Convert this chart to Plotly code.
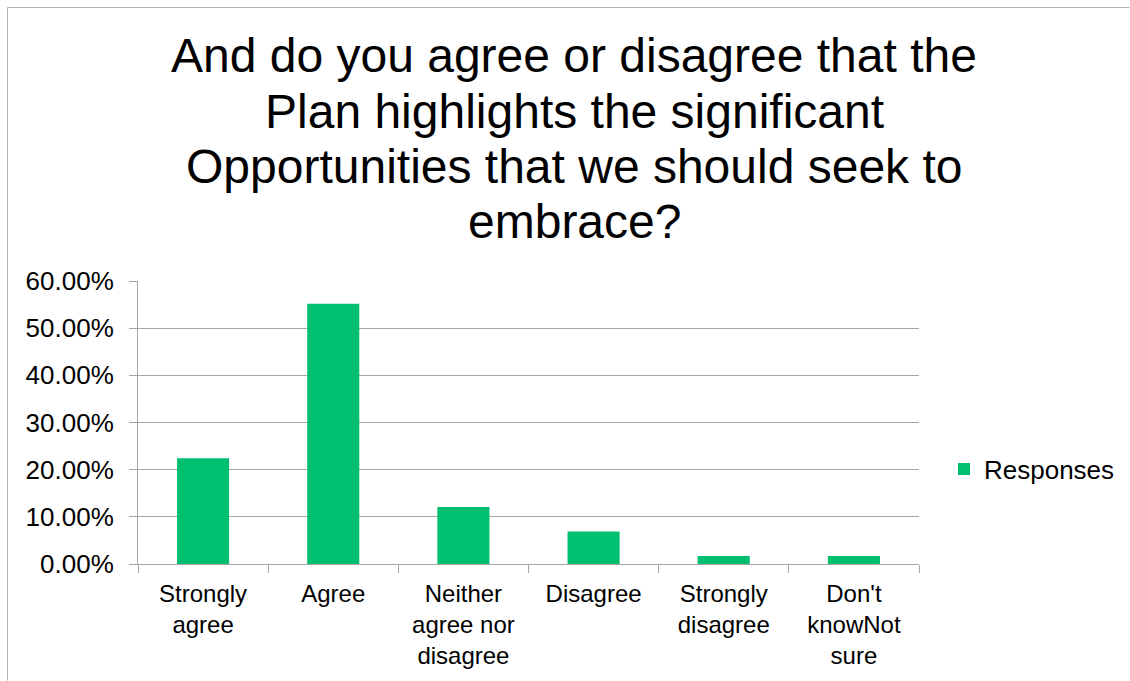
import plotly.graph_objects as go

categories = ["Strongly agree", "Agree", "Neither agree nor disagree", "Disagree",
              "Strongly disagree", "Don't knowNot sure"]
tick_labels = ["Strongly<br>agree", "Agree", "Neither<br>agree nor<br>disagree", "Disagree",
               "Strongly<br>disagree", "Don't<br>knowNot<br>sure"]
responses = [0.2241, 0.5517, 0.1207, 0.0690, 0.0172, 0.0172]
title_lines = ["And do you agree or disagree that the",
               "Plan highlights the significant",
               "Opportunities that we should seek to",
               "embrace?"]

FONT = "Liberation Sans, Arial, sans-serif"
GREEN = "#00BF6F"
GRID = "#A6A6A6"

W, H = 1130, 681
L, R, T, B = 138, 919, 281, 564

fig = go.Figure()
fig.add_trace(go.Bar(
    x=categories, y=responses, name="Responses",
    marker=dict(color=GREEN, line=dict(width=0)),
    showlegend=True,
))

# title lines (centers in pixels)
line_centers = [56, 111, 166, 221]
for txt, yc in zip(title_lines, line_centers):
    fig.add_annotation(
        text=txt, xref="paper", yref="paper",
        x=(574 - L) / (R - L), y=(B - yc) / (B - T),
        xanchor="center", yanchor="middle", showarrow=False,
        font=dict(family=FONT, size=48, color="#000000"),
    )

# chart border (only top and left edges are visible), kept inside the figure
bx = (7.5 - L) / (R - L)
by = (B - 7.5) / (B - T)
fig.add_shape(type="line", xref="paper", yref="paper", x0=bx, x1=(W - 0.5 - L) / (R - L),
              y0=by, y1=by, line=dict(color="#B3B3B3", width=1), layer="below")
fig.add_shape(type="line", xref="paper", yref="paper", x0=bx, x1=bx,
              y0=by, y1=(B - (H - 0.5)) / (B - T), line=dict(color="#B3B3B3", width=1), layer="below")

fig.update_layout(
    width=W, height=H,
    margin=dict(l=L, r=W - R, t=T, b=H - B, autoexpand=False),
    paper_bgcolor="white", plot_bgcolor="white",
    bargap=0.6,
    font=dict(family=FONT, color="#000000"),
    legend=dict(x=(944 - L) / (R - L), y=(B - 469) / (B - T),
                xanchor="left", yanchor="middle",
                font=dict(family=FONT, size=26, color="#000000"),
                bgcolor="rgba(0,0,0,0)", borderwidth=0, itemwidth=30),
    xaxis=dict(
        type="category", tickmode="array", tickvals=categories, ticktext=tick_labels,
        tickson="boundaries", ticks="outside", ticklen=8, tickcolor=GRID, tickwidth=1,
        showline=True, linecolor=GRID, linewidth=1, showgrid=False,
        tickfont=dict(family=FONT, size=24, color="#000000"),
        tickangle=0, ticklabelstandoff=8,
    ),
    yaxis=dict(
        range=[0, 0.6], dtick=0.1, tick0=0, tickformat=".2%",
        ticks="outside", ticklen=8, tickcolor=GRID, tickwidth=1,
        showline=True, linecolor=GRID, linewidth=1,
        showgrid=True, gridcolor=GRID, gridwidth=1, zeroline=False,
        tickfont=dict(family=FONT, size=26, color="#000000"),
        ticklabelstandoff=10,
    ),
)

fig.write_html(
    "out.html",
    config={"displayModeBar": False},
    post_script=(
        "document.documentElement.style.overflow='hidden';"
        "document.body.style.overflow='hidden';"
        "document.body.style.margin='0';"
    ),
)
